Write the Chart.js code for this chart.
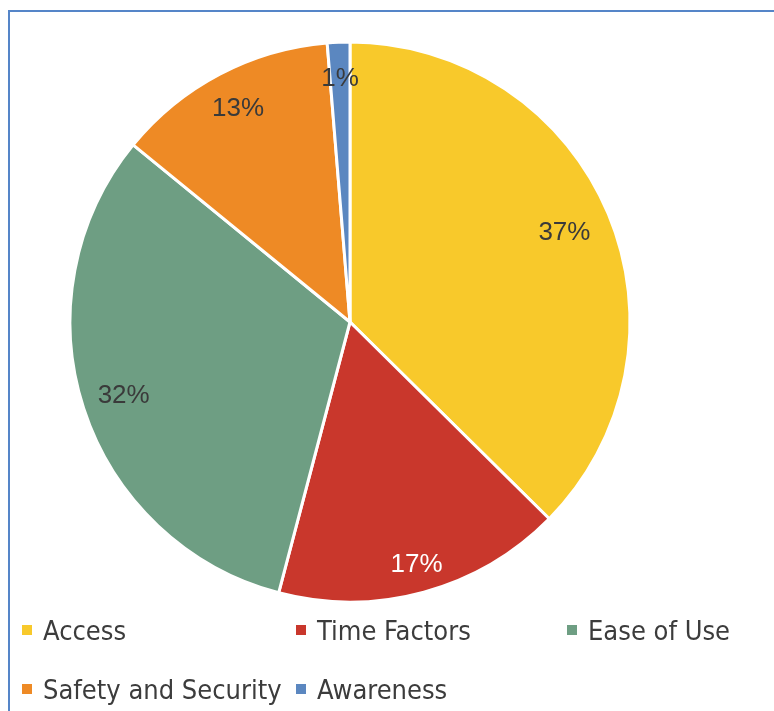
<!DOCTYPE html>
<html>
<head>
<meta charset="utf-8">
<script src="https://cdn.jsdelivr.net/npm/chart.js@4"></script>
<style>
  html, body { margin: 0; padding: 0; background: #fff; }
  #wrap { position: relative; width: 774px; height: 711px; overflow: hidden; }
  #frame { position: absolute; left: 8px; top: 10px; width: 800px; height: 760px;
           border: 2px solid #5585c8; box-sizing: border-box; }
  #pie { position: absolute; left: 0; top: 0; }
  .lg { position: absolute; font-family: "Liberation Sans Narrow", "DejaVu Sans Condensed", sans-serif;
        font-size: 27px; color: #3c3c3c; white-space: nowrap; line-height: 30px; }
  .lg i { display: inline-block; width: 10px; height: 10px; margin-right: 11px; vertical-align: 5px; }
</style>
</head>
<body>
<div id="wrap">
  <div id="frame"></div>
  <canvas id="pie" width="774" height="711"></canvas>
</div>
<script>
const categories = ['Access', 'Time Factors', 'Ease of Use', 'Safety and Security', 'Awareness'];
const shares = [37.4, 16.7, 31.8, 12.8, 1.3];
const colors = ['#f8c92b', '#c9372c', '#6e9e83', '#ee8a25', '#5b87c0'];

// percentage labels drawn inside the slices
const sliceLabels = {
    id: 'sliceLabels',
    afterDatasetsDraw(chart, args, opts) {
        const ctx = chart.ctx;
        const meta = chart.getDatasetMeta(0);
        const total = shares.reduce((a, b) => a + b, 0);
        ctx.save();
        ctx.font = '26px "Liberation Sans", Arial, sans-serif';
        ctx.textAlign = 'center';
        ctx.textBaseline = 'middle';
        meta.data.forEach((arc, i) => {
            const mid = (arc.startAngle + arc.endAngle) / 2;
            const r = arc.outerRadius * opts.radius[i];
            ctx.fillStyle = opts.color[i];
            ctx.fillText(Math.round(shares[i] / total * 100) + '%',
                arc.x + Math.cos(mid) * r, arc.y + Math.sin(mid) * r);
        });
        ctx.restore();
    },
};

new Chart(document.getElementById('pie'), {
    type: 'pie',
    data: {
        labels: categories,
        datasets: [{
            data: shares,
            backgroundColor: colors,
            borderColor: '#ffffff',
            borderWidth: 3,
        }],
    },
    options: {
        responsive: false,
        animation: false,
        radius: 280,
        layout: { padding: { left: 0, top: 0, right: 74, bottom: 67 } },
        plugins: {
            legend: { display: false },
            tooltip: { enabled: false },
            sliceLabels: {
                radius: [0.83, 0.9, 0.85, 0.86, 0.87],
                color: ['#3a3a3a', '#ffffff', '#3a3a3a', '#3a3a3a', '#3a3a3a'],
            },
        },
    },
    plugins: [sliceLabels],
});

// legend, two rows like the original
const legendPos = [[22, 616], [296, 616], [567, 616], [22, 675], [296, 675]];
const wrap = document.getElementById('wrap');
categories.forEach((c, i) => {
    const d = document.createElement('div');
    d.className = 'lg';
    d.style.left = legendPos[i][0] + 'px';
    d.style.top = legendPos[i][1] + 'px';
    d.innerHTML = '<i style="background:' + colors[i] + '"></i>' + c;
    wrap.appendChild(d);
});
</script>
</body>
</html>
